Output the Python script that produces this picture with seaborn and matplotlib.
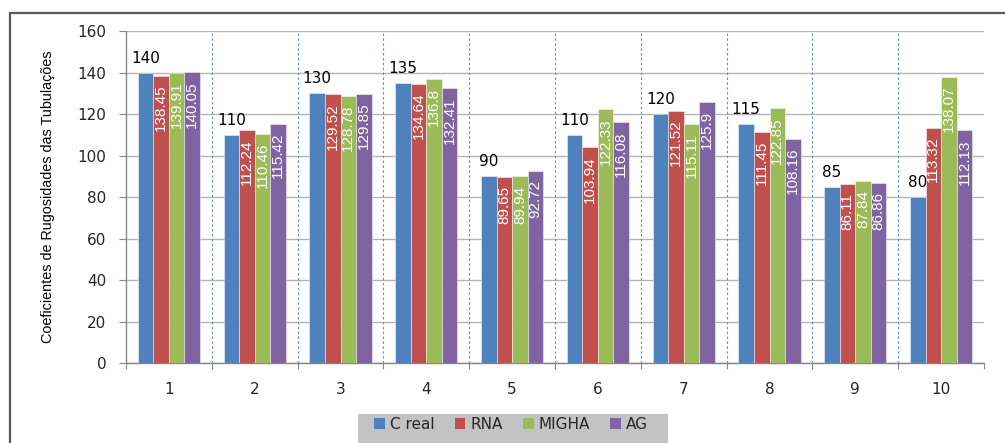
import matplotlib
matplotlib.use("Agg")
import numpy as np
import pandas as pd
import seaborn as sns
import matplotlib.pyplot as plt
from matplotlib.patches import Rectangle, Patch

# Pipe index and roughness coefficients per method
categories = ["1", "2", "3", "4", "5", "6", "7", "8", "9", "10"]
series_names = ["C real", "RNA", "MIGHA", "AG"]
c_real = [140, 110, 130, 135, 90, 110, 120, 115, 85, 80]
rna = [138.45, 112.24, 129.52, 134.64, 89.65, 103.94, 121.52, 111.45, 86.11, 113.32]
migha = [139.91, 110.46, 128.78, 136.8, 89.94, 122.33, 115.11, 122.85, 87.84, 138.07]
ag = [140.05, 115.42, 129.85, 132.41, 92.72, 116.08, 125.9, 108.16, 86.86, 112.13]
y_ticks = [0, 20, 40, 60, 80, 100, 120, 140, 160]
colors = ["#4F81BD", "#C0504D", "#9BBB59", "#8064A2"]

series_values = [c_real, rna, migha, ag]
df = pd.DataFrame({
    "Tubulação": np.tile(categories, len(series_names)),
    "Série": np.repeat(series_names, len(categories)),
    "Valor": np.concatenate(series_values),
})

sns.set_theme(style="white")
plt.rcParams["font.family"] = ["DejaVu Sans"]
narrow = ["Liberation Sans", "DejaVu Sans"]

W, H = 1005, 443
fig = plt.figure(figsize=(W / 100, H / 100), dpi=100)
ax = fig.add_axes([126 / W, 1 - 363 / H, 858 / W, 332 / H])

sns.barplot(data=df, x="Tubulação", y="Valor", hue="Série",
            order=categories, hue_order=series_names, palette=colors,
            saturation=1, width=0.727, edgecolor=(1, 1, 1, 0.55),
            linewidth=0.6, errorbar=None, legend=False, ax=ax, zorder=3)

ax.set_xlim(-0.5, len(categories) - 0.5)
ax.set_ylim(0, 160)
ax.set_yticks(y_ticks)
ax.set_xlabel("")

# grid and separators between groups
ax.yaxis.grid(True, color="#b3b3b3", lw=1)
ax.set_axisbelow(True)
for b in np.arange(0.5, len(categories) - 0.5, 1):
    ax.axvline(b, color="#5B8FD0", lw=0.8, ls=(0, (2.2, 2.2)), zorder=1)

for side in ["top", "right"]:
    ax.spines[side].set_visible(False)
for side in ["left", "bottom"]:
    ax.spines[side].set_color("#868686")
    ax.spines[side].set_linewidth(1)

ax.tick_params(axis="y", left=True, length=5, width=0.8, color="#868686",
               pad=9, labelsize=11, labelcolor="#262626")
ax.tick_params(axis="x", which="major", length=0, pad=14, labelsize=11,
               labelcolor="#262626")
ax.set_xticks(np.arange(-0.5, len(categories), 1), minor=True)
ax.tick_params(axis="x", which="minor", bottom=True, length=4, width=0.8,
               color="#868686")

ax.set_ylabel("Coeficientes de Rugosidades das Tubulações", fontsize=10.4,
              family=narrow, color="black", va="center")
ax.yaxis.set_label_coords(-0.0909, 0.5)

# value labels
for i, cont in enumerate(ax.containers):
    vals = series_values[i]
    if i == 0:
        ax.bar_label(cont, labels=[f"{v:g}" for v in vals], padding=5,
                     fontsize=11, color="black")
    else:
        for bar, v in zip(cont, vals):
            ax.annotate(f"{v:g}",
                        (bar.get_x() + bar.get_width() / 2, bar.get_height()),
                        xytext=(0, -6.5), textcoords="offset points",
                        rotation=90, ha="center", va="top", color="white",
                        fontsize=11, family=narrow, zorder=5)

# outer frame
fig.add_artist(Rectangle((9.5 / W, -0.2), 1.2, (1 - 12.5 / H) + 0.2,
                         transform=fig.transFigure, fill=False,
                         edgecolor="#595959", lw=1.6))

# legend
fig.add_artist(Rectangle((358 / W, -0.2), 310 / W, (1 - 414 / H) + 0.2,
                         transform=fig.transFigure, facecolor="#c3c3c3",
                         edgecolor="none", zorder=0))
handles = [Patch(facecolor=c, edgecolor="none") for c in colors]
fig.legend(handles, series_names, loc="upper left",
           bbox_to_anchor=(374 / W, 1 - 417 / H), ncol=4, frameon=False,
           fontsize=11, handlelength=0.7, handleheight=0.7,
           handletextpad=0.35, columnspacing=1.3, borderpad=0,
           borderaxespad=0)

fig.savefig("out.png", dpi=100)
